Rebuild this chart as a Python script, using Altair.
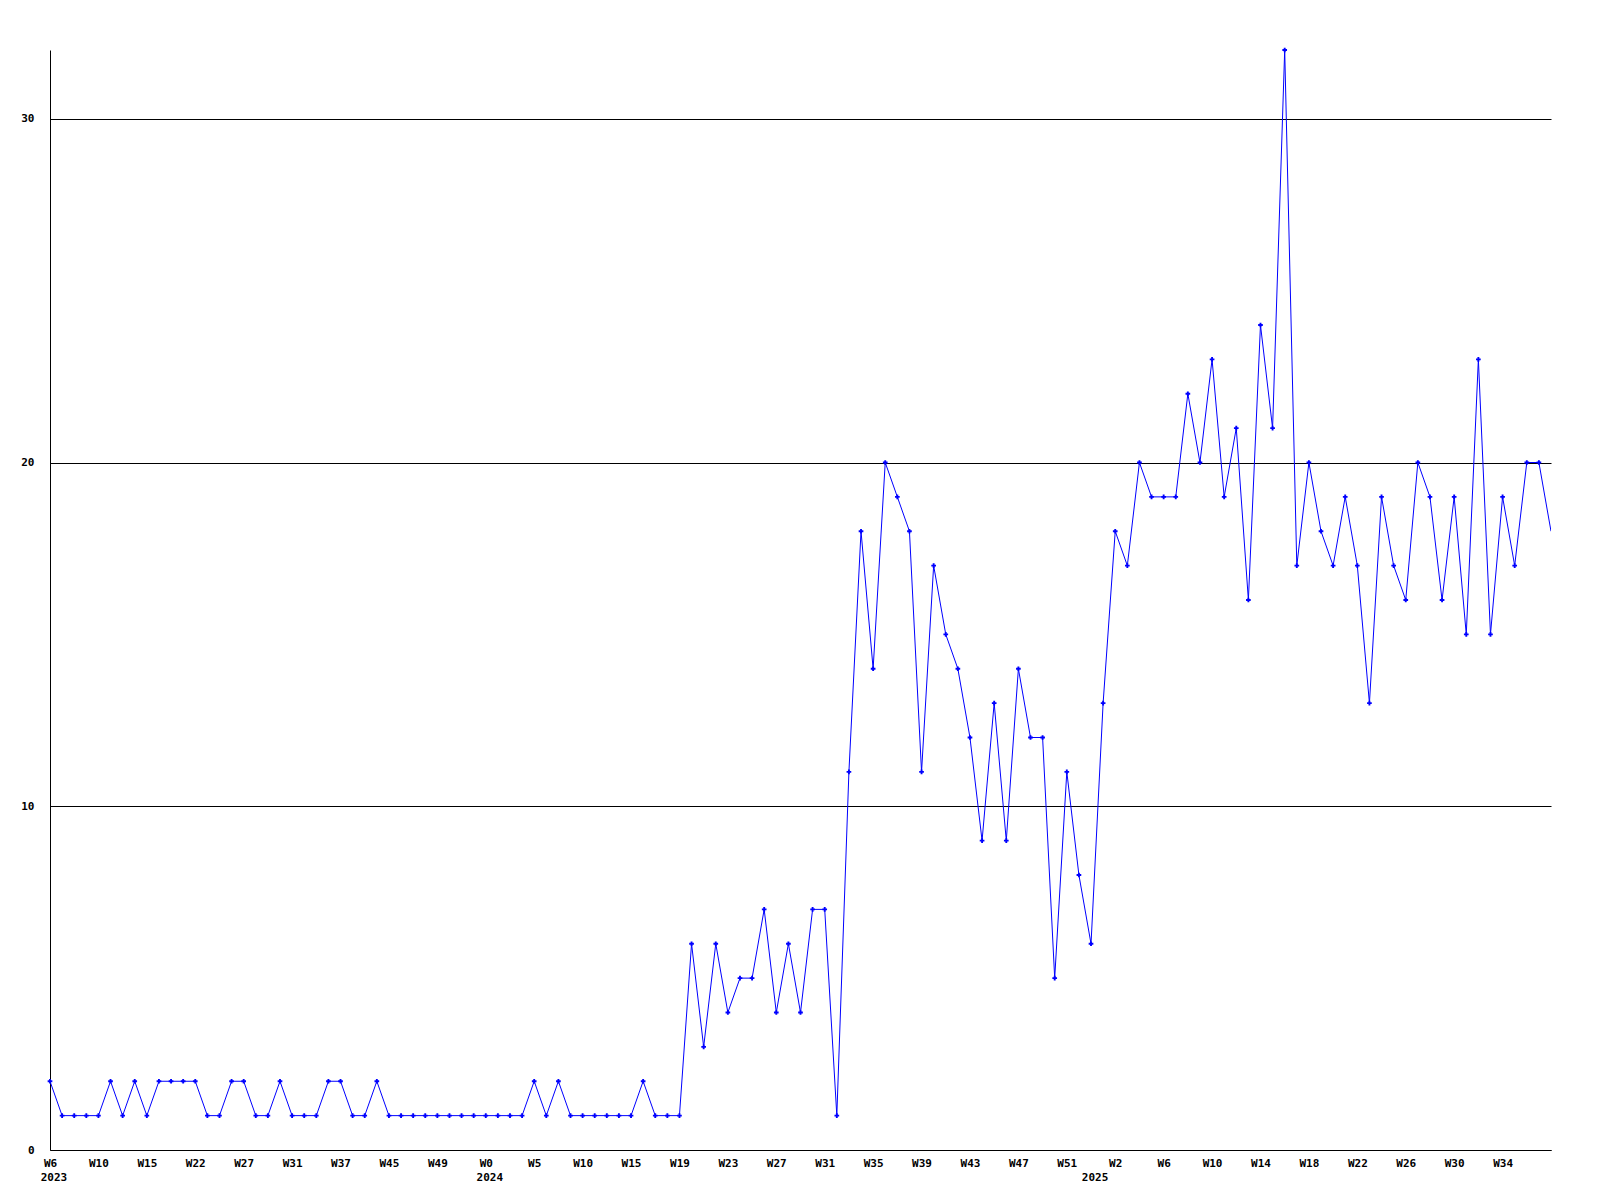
import altair as alt
import pandas as pd

# Weekly values (equally spaced points)
values = [
    2, 1, 1, 1, 1, 2, 1, 2, 1, 2, 2, 2, 2, 1, 1, 2, 2, 1, 1, 2,
    1, 1, 1, 2, 2, 1, 1, 2, 1, 1, 1, 1, 1, 1, 1, 1, 1, 1, 1, 1,
    2, 1, 2, 1, 1, 1, 1, 1, 1, 2, 1, 1, 1, 6, 3, 6, 4, 5, 5, 7,
    4, 6, 4, 7, 7, 1, 11, 18, 14, 20, 19, 18, 11, 17, 15, 14, 12, 9, 13, 9,
    14, 12, 12, 5, 11, 8, 6, 13, 18, 17, 20, 19, 19, 19, 22, 20, 23, 19, 21, 16,
    24, 21, 32, 17, 20, 18, 17, 19, 17, 13, 19, 17, 16, 20, 19, 16, 19, 15, 23, 15,
    19, 17, 20, 20, 18,
]

# Tick labels, one every 4 points
week_labels = ["W6", "W10", "W15", "W22", "W27", "W31", "W37", "W45", "W49", "W0",
               "W5", "W10", "W15", "W19", "W23", "W27", "W31", "W35", "W39", "W43",
               "W47", "W51", "W2", "W6", "W10", "W14", "W18", "W22", "W26", "W30", "W34"]
# Year labels and the point index where each year starts
years = ["2023", "2024", "2025"]
year_start_idx = [0, 36, 86]

y_ticks = [0, 10, 20, 30]

df = pd.DataFrame({"idx": list(range(len(values))), "value": values})
year_df = pd.DataFrame({"idx": year_start_idx, "year": years})

label_expr = "[" + ",".join("'%s'" % w for w in week_labels) + "][round(datum.value/4)]"

FONT = "DejaVu Sans Mono"
n_last = len(values) - 1
PLOT_W, PLOT_H = 1501, 1100

x_scale = alt.Scale(domain=[0, n_last], nice=False, zero=False)

x = alt.X(
    "idx:Q",
    scale=x_scale,
    axis=alt.Axis(
        title=None,
        values=list(range(0, 4 * len(week_labels), 4)),
        labelExpr=label_expr,
        grid=False,
        ticks=False,
        domainColor="black",
        domainWidth=1,
        labelFont=FONT,
        labelFontSize=11,
        labelFontWeight="bold",
        labelColor="black",
        labelPadding=7,
        labelBaseline="top",
        labelOverlap=False,
        labelFlush=False,
    ),
)
y = alt.Y(
    "value:Q",
    scale=alt.Scale(domain=[0, 32], nice=False),
    axis=alt.Axis(
        title=None,
        values=y_ticks,
        grid=True,
        gridColor="black",
        gridOpacity=1,
        gridWidth=1,
        ticks=False,
        domainColor="black",
        domainWidth=1,
        labelFont=FONT,
        labelFontSize=11,
        labelFontWeight="bold",
        labelColor="black",
        labelPadding=16,
    ),
)

line = alt.Chart(df).mark_line(color="#0000ff", strokeWidth=1, clip=True).encode(x=x, y=y)
pts = (
    alt.Chart(df)
    .transform_filter("datum.idx < %d" % n_last)
    .mark_point(shape="cross", filled=True, size=22, color="#0000ff", opacity=1)
    .encode(x=x, y=y)
)
year_text = (
    alt.Chart(year_df)
    .mark_text(
        align="center", baseline="top", dx=4, dy=22,
        font=FONT, fontSize=11, fontWeight="bold", color="black",
    )
    .encode(x=alt.X("idx:Q", scale=x_scale), y=alt.value(PLOT_H), text="year:N")
)

chart = (
    alt.layer(line, pts, year_text)
    .properties(
        width=PLOT_W,
        height=PLOT_H,
        autosize=alt.AutoSizeParams(type="none"),
        padding={"left": 42, "top": 42, "right": 30, "bottom": 40},
        background="white",
    )
    .configure_view(strokeWidth=0)
)

chart.save("out.html", embed_options={"renderer": "svg", "actions": False})
